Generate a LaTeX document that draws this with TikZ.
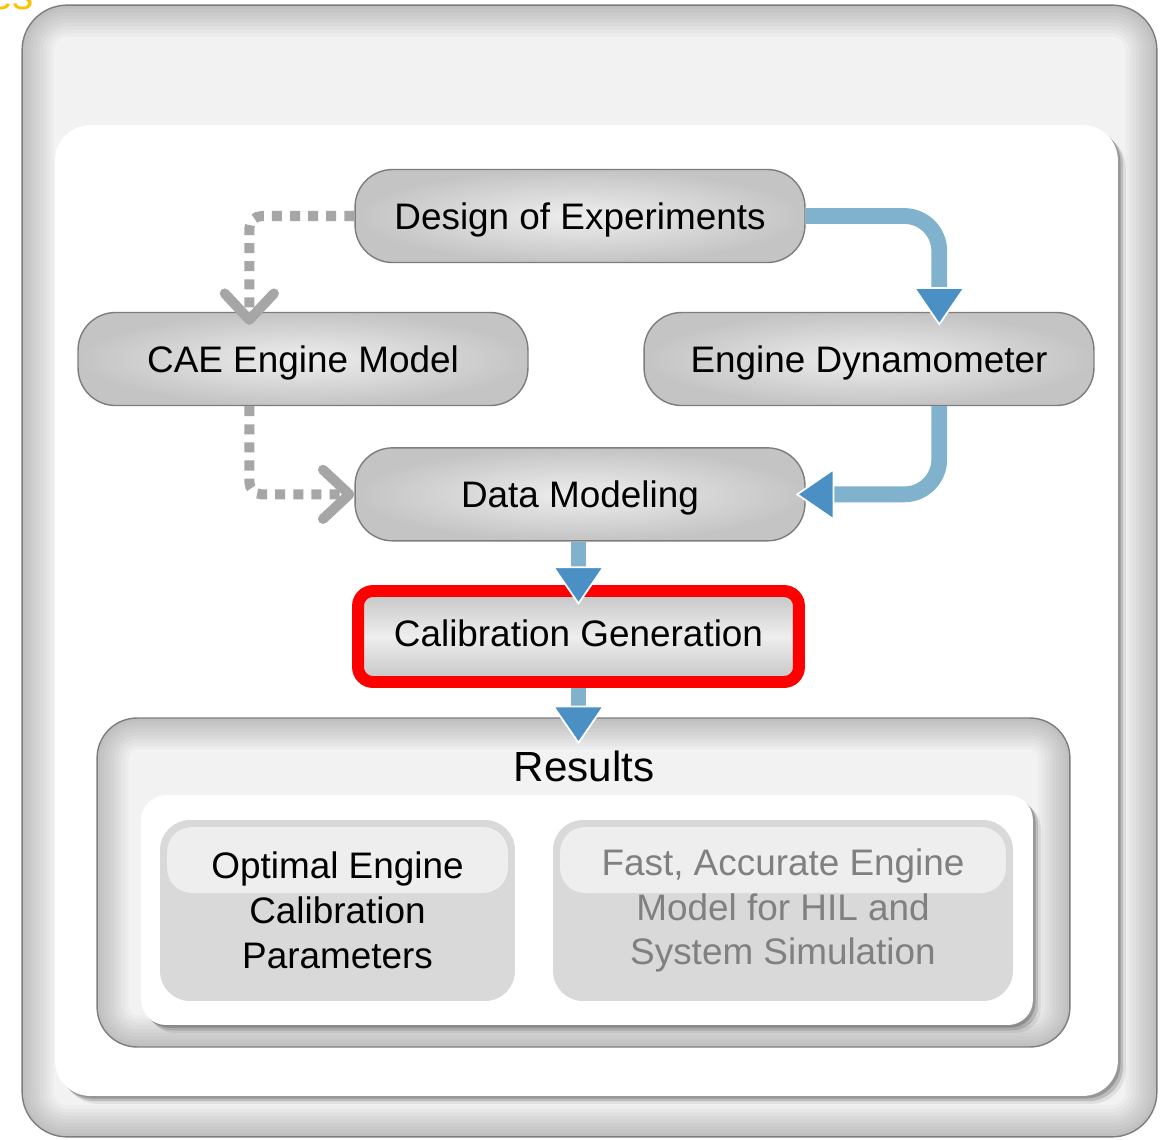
\documentclass[tikz,border=0pt]{standalone}
\usepackage{fontspec}
\setmainfont{Liberation Sans}
\usepackage{xcolor}
\usepackage{tikz}
\usetikzlibrary{arrows.meta, positioning, shadows}
\definecolor{boxgray}{RGB}{125,125,125}
\definecolor{shadeout}{RGB}{196,196,196}
\definecolor{shadein}{RGB}{238,238,238}
\definecolor{flowblue}{RGB}{128,178,206}
\definecolor{tipblue}{RGB}{74,144,196}
\definecolor{dotgray}{RGB}{166,166,166}
\definecolor{panelgray}{RGB}{242,242,242}
\definecolor{resgray}{RGB}{217,217,217}
\definecolor{reshigh}{RGB}{238,238,238}
\definecolor{fadetext}{RGB}{128,128,128}
\definecolor{markorange}{RGB}{255,192,0}

\begin{document}
\begin{tikzpicture}[
        x=0.02cm, y=-0.02cm,
        box/.style={rectangle, rounded corners=0.75cm, draw=boxgray, line width=0.8pt,
                    inner color=shadein, outer color=shadeout,
                    minimum width=9cm, minimum height=1.86cm, inner sep=0pt,
                    text height=19.5pt, text depth=4.5pt,
                    font=\fontsize{21}{25}\selectfont},
        bevel/.style={rectangle, rounded corners=#1, draw=boxgray, line width=0.8pt,
                    fill=panelgray, inner sep=0pt,
                    path picture={
                      \foreach \w in {36,32,28,24,20,16,12,8,4}
                        \draw[black, opacity=0.022, line width=\w pt, rounded corners=#1]
                          (path picture bounding box.south west) rectangle (path picture bounding box.north east);
                    }},
        panel/.style={rectangle, rounded corners=#1, fill=white, inner sep=0pt,
                    drop shadow={shadow xshift=1.5pt, shadow yshift=-1.5pt, opacity=0.2, fill=black},
                    drop shadow={shadow xshift=3pt, shadow yshift=-3pt, opacity=0.15, fill=black},
                    drop shadow={shadow xshift=4.5pt, shadow yshift=-4.5pt, opacity=0.08, fill=black}},
        resbox/.style={rectangle, rounded corners=0.6cm, fill=resgray, inner sep=0pt,
                    minimum height=3.62cm, align=center,
                    font=\fontsize{21}{25.5}\selectfont,
                    path picture={
                      \fill[reshigh, rounded corners=0.5cm]
                        ([shift={(0.14cm,-0.14cm)}]path picture bounding box.north west) rectangle
                        ([shift={(-0.14cm,-1.46cm)}]path picture bounding box.north east);
                    }},
        flow/.style={line width=9pt, flowblue, rounded corners=0.7cm,
                    -{Triangle[length=22pt, width=30pt, fill=tipblue, color=white, line width=1pt]}},
        dotflow/.style={line width=5.7pt, dotgray, dash pattern=on 5.7pt off 4.6pt,
                    rounded corners=0.25cm,
                    -{Straight Barb[length=15pt, width=28pt, round]}},
      ]
      \useasboundingbox (0,0) rectangle (1164,1140);

      \node[anchor=base east, text=markorange, font=\fontsize{24}{28}\selectfont] (mark) at (40,9) {es};

      \node[bevel=0.9cm, minimum width=22.7cm, minimum height=22.64cm] (frame) at (589.5,571) {};
      \node[panel=0.7cm, minimum width=21.26cm, minimum height=19.42cm] (inner) at (586.5,610.5) {};

      \node[box] (design) at (580,216) {Design of Experiments};
      \node[box] (cae) at (303,359) {CAE Engine Model};
      \node[box] (dyno) at (869,359) {Engine Dynamometer};
      \node[box, below=3.68cm of design] (data) {Data Modeling};
      \node[rectangle, rounded corners=0.3cm, draw=red, line width=6.8pt,
            top color=shadeout, bottom color=shadeout, middle color=shadein,
            minimum width=8.82cm, minimum height=1.82cm, inner sep=0pt,
            text height=15.5pt, text depth=4.5pt,
            font=\fontsize{21}{25}\selectfont] (calib) at (578.5,636.5) {Calibration Generation};

      \node[bevel=0.8cm, minimum width=19.46cm, minimum height=6.58cm] (results) at (583.5,882.5) {};
      \node[font=\fontsize{24}{28}\selectfont] (rtitle) at (584,766) {Results};
      \node[panel=0.5cm, minimum width=17.84cm, minimum height=4.6cm] (respanel) at (587,910) {};
      \node[resbox, minimum width=7.1cm] (optimal) at (337.5,910.5)
        {Optimal Engine\\Calibration\\Parameters};
      \node[resbox, minimum width=9.2cm, text=fadetext] (fastmodel) at (783,910.5)
        {Fast, Accurate Engine\\Model for HIL and\\System Simulation};

      \draw[dotflow] (design.west) -| ([xshift=3.44cm, yshift=-0.26cm]cae.north west);
      \draw[dotflow] ([xshift=3.44cm]cae.south west) |- (data.west);
      \draw[flow] (design.east) -| ([xshift=5.92cm, yshift=-0.28cm]dyno.north west);
      \draw[flow] ([xshift=5.92cm]dyno.south west) |- ([xshift=-0.2cm]data.east);
      \draw[flow] (calib.north |- data.south) -- ([yshift=-0.4cm]calib.north);
      \draw[flow] (calib.south) -- ([yshift=-0.54cm]calib.south |- results.north);
    \end{tikzpicture}
\end{document}
